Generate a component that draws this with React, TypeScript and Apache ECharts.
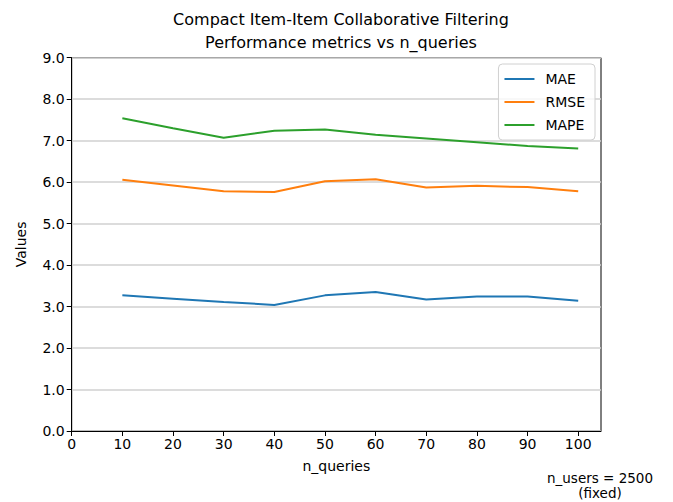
import React, { useEffect, useRef } from "react";
import * as echarts from "echarts";

const nQueries = [10, 20, 30, 40, 50, 60, 70, 80, 90, 100];
const maeValues = [3.27, 3.19, 3.11, 3.04, 3.27, 3.35, 3.17, 3.24, 3.24, 3.14];
const rmseValues = [6.06, 5.92, 5.78, 5.76, 6.02, 6.07, 5.87, 5.91, 5.88, 5.78];
const mapeValues = [7.54, 7.3, 7.07, 7.24, 7.27, 7.14, 7.05, 6.96, 6.87, 6.81];
const seriesNames = ["MAE", "RMSE", "MAPE"];
const seriesColors = ["#1f77b4", "#ff7f0e", "#2ca02c"];

const FONT = "DejaVu Sans";

export default function App() {
  const ref = useRef<HTMLDivElement>(null);
  useEffect(() => {
    if (!ref.current) return;
    const chart = echarts.init(ref.current, null, { renderer: "svg" });
    const allValues = [maeValues, rmseValues, mapeValues];
    chart.setOption({
      animation: false,
      backgroundColor: "#ffffff",
      textStyle: { fontFamily: FONT },
      title: {
        text: "Compact Item-Item Collaborative Filtering\nPerformance metrics vs n_queries",
        left: 336,
        top: 3,
        textAlign: "center",
        textStyle: { fontFamily: FONT, fontSize: 16, fontWeight: "normal", color: "#000", lineHeight: 23 },
      },
      grid: {
        left: 71.7,
        right: 72,
        top: 57.7,
        bottom: 71,
        show: true,
        borderColor: "#000",
        borderWidth: 1,
        backgroundColor: "transparent",
      },
      legend: {
        orient: "vertical",
        right: 78,
        top: 64,
        data: seriesNames,
        icon: "rect",
        itemWidth: 30,
        itemHeight: 2,
        itemGap: 9,
        padding: [8, 10, 8, 6],
        backgroundColor: "rgba(255,255,255,0.8)",
        borderColor: "#d0d0d0",
        borderWidth: 1,
        borderRadius: 4,
        textStyle: { fontFamily: FONT, fontSize: 14, color: "#000", padding: [0, 0, 0, 6] },
      },
      xAxis: {
        type: "value",
        min: 0,
        max: 104.5,
        interval: 10,
        name: "n_queries",
        nameLocation: "middle",
        nameGap: 28,
        nameTextStyle: { fontFamily: FONT, fontSize: 14, color: "#000" },
        axisLine: { show: true, onZero: false, lineStyle: { color: "#000", width: 1 } },
        axisTick: { show: true, length: 5, lineStyle: { color: "#000" } },
        axisLabel: { fontFamily: FONT, fontSize: 14, color: "#000", margin: 6, showMaxLabel: false },
        splitLine: { show: false },
      },
      yAxis: {
        type: "value",
        min: 0,
        max: 9,
        interval: 1,
        name: "Values",
        nameLocation: "middle",
        nameGap: 44,
        nameTextStyle: { fontFamily: FONT, fontSize: 14, color: "#000" },
        axisLine: { show: true, lineStyle: { color: "#000", width: 1 } },
        axisTick: { show: true, length: 5, lineStyle: { color: "#000" } },
        axisLabel: {
          fontFamily: FONT,
          fontSize: 14,
          color: "#000",
          margin: 7,
          formatter: (v: number) => v.toFixed(1),
        },
        splitLine: { show: true, lineStyle: { color: "#d0d0d0", width: 1.5 } },
      },
      graphic: [
        {
          type: "text",
          x: 600,
          y: 470,
          style: {
            text: "n_users = 2500\n(fixed)",
            fontFamily: FONT,
            fontSize: 13.5,
            fill: "#000",
            align: "center",
            verticalAlign: "top",
            lineHeight: 15,
          },
        },
      ],
      series: seriesNames.map((name, i) => ({
        name,
        type: "line",
        data: nQueries.map((q, j) => [q, allValues[i][j]]),
        symbol: "none",
        lineStyle: { color: seriesColors[i], width: 2 },
        itemStyle: { color: seriesColors[i] },
      })),
    });
    return () => chart.dispose();
  }, []);
  return (
    <div
      ref={ref}
      style={{ width: 673, height: 502, position: "fixed", left: 0, top: 0 }}
    />
  );
}
